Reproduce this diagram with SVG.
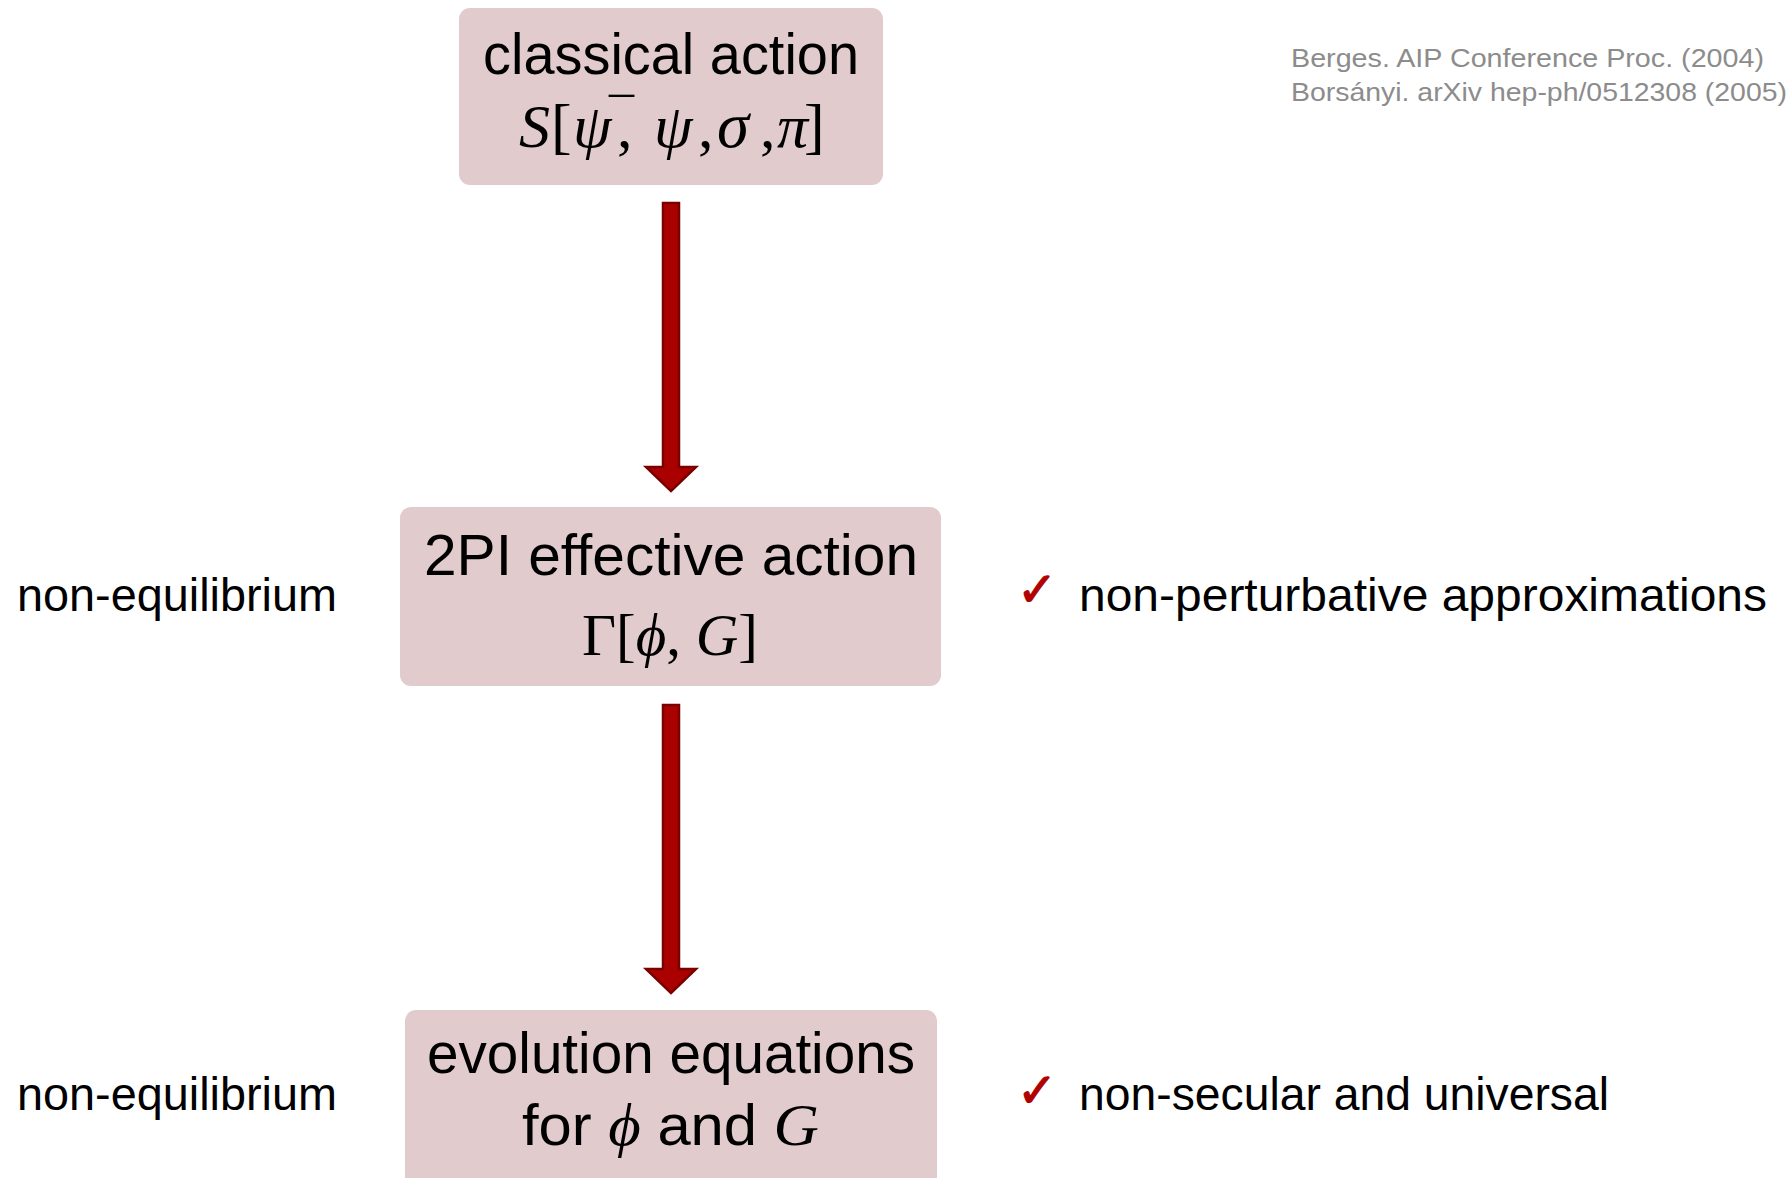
<svg xmlns="http://www.w3.org/2000/svg" width="1789" height="1178" viewBox="0 0 1789 1178">
<style>
.box{fill:#e1cbcc}
.t{font-family:"Liberation Sans",Arial,sans-serif;fill:#000}
.m{font-family:"Liberation Serif","DejaVu Serif",serif;fill:#000}
.i{font-style:italic}
.arrow{fill:#aa0000;stroke:#7a0000;stroke-width:2.5;stroke-linejoin:miter}
.chk{font-family:"DejaVu Sans",sans-serif;fill:#b00000;stroke:#b00000;stroke-width:1.2}
.cite{font-family:"Liberation Sans",Arial,sans-serif;fill:#8c8c8c;font-size:26px}
</style>
<rect width="1789" height="1178" fill="#ffffff"/>
<g id="connectors">
<polygon class="arrow" points="663,203 679,203 679,467 696,467 671,491 646,467 663,467"/>
<polygon class="arrow" points="663,705 679,705 679,969 696,969 671,993 646,969 663,969"/>
</g>
<g id="node-classical-action">
<rect class="box" x="459" y="8" width="424" height="177" rx="11"/>
<text class="t" x="483" y="74" font-size="57" textLength="376" lengthAdjust="spacingAndGlyphs">classical action</text>
<text class="m" font-size="62"><tspan class="i" x="519" y="147">S</tspan><tspan x="551" y="147">[</tspan><tspan class="i" x="573" y="147">ψ</tspan><tspan x="609" y="133" font-size="50">¯</tspan><tspan x="617" y="147">,</tspan><tspan class="i" x="654" y="147">ψ</tspan><tspan x="698" y="147">,</tspan><tspan class="i" x="717" y="147" font-size="65">σ</tspan><tspan x="760" y="147">,</tspan><tspan class="i" x="777" y="147">π</tspan><tspan x="804" y="147">]</tspan></text>
</g>
<g id="node-2pi">
<rect class="box" x="400" y="507" width="541" height="179" rx="11"/>
<text class="t" x="424" y="575" font-size="57" textLength="494" lengthAdjust="spacingAndGlyphs">2PI effective action</text>
<text class="m" x="582" y="655" font-size="60" textLength="176" lengthAdjust="spacingAndGlyphs">Γ[<tspan class="i">ϕ</tspan>, <tspan class="i">G</tspan>]</text>
</g>
<g id="node-evolution">
<rect class="box" x="405" y="1010" width="532" height="178" rx="11"/>
<text class="t" x="427" y="1073" font-size="57" textLength="488" lengthAdjust="spacingAndGlyphs">evolution equations</text>
<text class="t" x="522" y="1145" font-size="57" textLength="297" lengthAdjust="spacingAndGlyphs">for <tspan class="m i" font-size="60">ϕ</tspan> and <tspan class="m i" font-size="60">G</tspan></text>
</g>
<g id="labels">
<text class="t" x="17" y="611" font-size="46" textLength="320" lengthAdjust="spacingAndGlyphs">non-equilibrium</text>
<text class="t" x="17" y="1110" font-size="46" textLength="320" lengthAdjust="spacingAndGlyphs">non-equilibrium</text>
<text class="chk" x="1017" y="606" font-size="48">✓</text>
<text class="t" x="1079" y="611" font-size="46" textLength="688" lengthAdjust="spacingAndGlyphs">non-perturbative approximations</text>
<text class="chk" x="1017" y="1107" font-size="48">✓</text>
<text class="t" x="1079" y="1110" font-size="46" textLength="530" lengthAdjust="spacingAndGlyphs">non-secular and universal</text>
</g>
<g id="citation">
<text class="cite" x="1291" y="67" textLength="473" lengthAdjust="spacingAndGlyphs">Berges. AIP Conference Proc. (2004)</text>
<text class="cite" x="1291" y="101" textLength="496" lengthAdjust="spacingAndGlyphs">Borsányi. arXiv hep-ph/0512308 (2005)</text>
</g>
</svg>
